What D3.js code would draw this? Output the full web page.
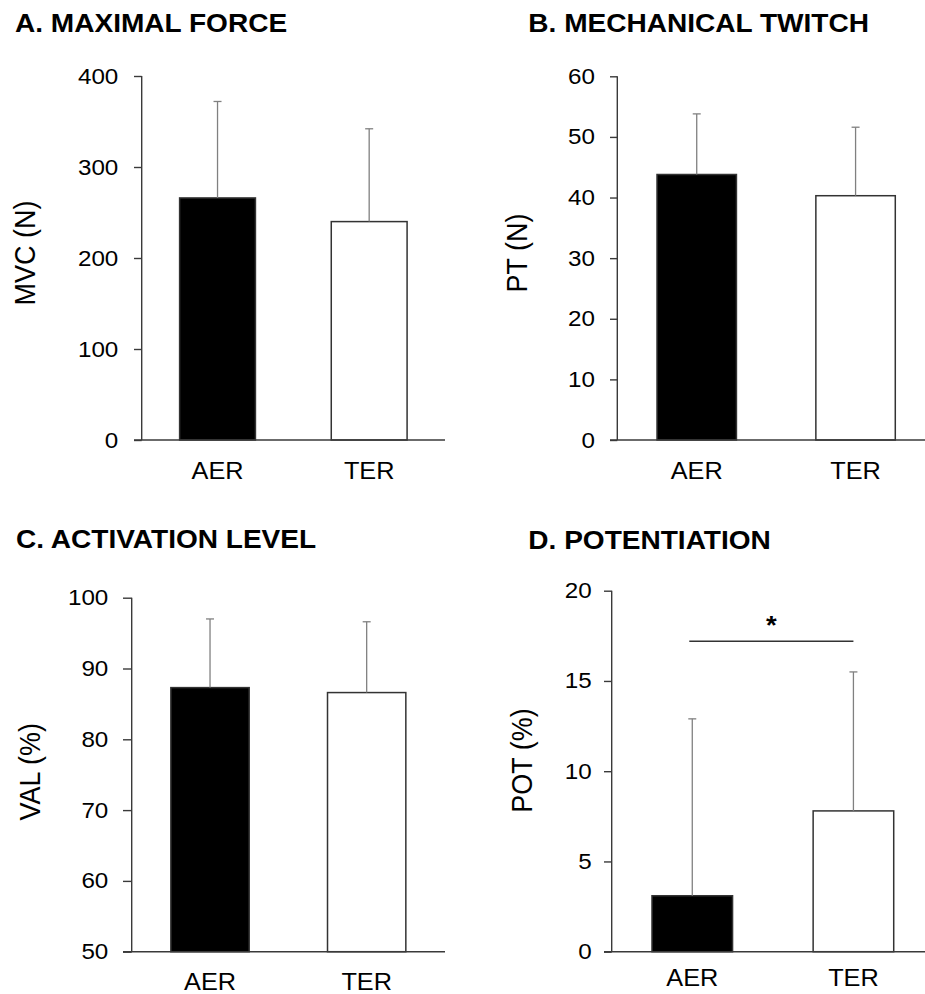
<!DOCTYPE html>
<html>
<head>
<meta charset="utf-8">
<script src="https://cdn.jsdelivr.net/npm/d3@7"></script>
<style>
  html, body { margin: 0; padding: 0; background: #fff; }
  svg { display: block; }
  text { font-family: "Liberation Sans", Arial, sans-serif; fill: #000; }
</style>
</head>
<body>
<svg id="chart" width="925" height="994"></svg>
<script>
// ---- data ----
const groups = ["AER", "TER"];
const barFills = ["#000000", "#ffffff"];

const titles = ["A. MAXIMAL FORCE", "B. MECHANICAL TWITCH", "C. ACTIVATION LEVEL", "D. POTENTIATION"];
const yLabels = ["MVC (N)", "PT (N)", "VAL (%)", "POT (%)"];

const mvcMean = [266, 240];
const mvcSD = [106, 102];
const mvcTicks = [0, 100, 200, 300, 400];

const ptMean = [43.8, 40.3];
const ptSD = [10.0, 11.3];
const ptTicks = [0, 10, 20, 30, 40, 50, 60];

const valMean = [87.3, 86.6];
const valSD = [9.7, 10.0];
const valTicks = [50, 60, 70, 80, 90, 100];

const potMean = [3.1, 7.8];
const potSD = [9.8, 7.7];
const potTicks = [0, 5, 10, 15, 20];

const sigPairs = [null, null, null, {from: "AER", to: "TER", y: 17.2, label: "*"}];

// ---- layout (pixel geometry only) ----
const SX = 1.1; // horizontal stretch of the original figure's text
const layout = [
  {axisX: 141.7, right: 445, yTop: 76, yBot: 440, tickStart: 134, gap: 23.4, titleX: 15, titleY: 31.7,
   ylabX: 35, ylabY: 253, catY: 479},
  {axisX: 617.3, right: 935, yTop: 76.3, yBot: 440, tickStart: 610, gap: 22.3, titleX: 528.3, titleY: 32,
   ylabX: 526.7, ylabY: 253, catY: 479},
  {axisX: 131.7, right: 445, yTop: 597.7, yBot: 951.7, tickStart: 123, gap: 23.4, titleX: 16, titleY: 548.3,
   ylabX: 40, ylabY: 771.7, catY: 990},
  {axisX: 611.7, right: 934, yTop: 590.7, yBot: 951.7, tickStart: 604, gap: 20, titleX: 528.3, titleY: 549,
   ylabX: 531.7, ylabY: 760.5, catY: 986}
];

const panels = [
  {means: mvcMean, sds: mvcSD, ticks: mvcTicks},
  {means: ptMean, sds: ptSD, ticks: ptTicks},
  {means: valMean, sds: valSD, ticks: valTicks},
  {means: potMean, sds: potSD, ticks: potTicks}
];

const svg = d3.select("#chart");
const axisColor = "#3a3a3a";
const errColor = "#808080";
const FONT = "'Liberation Sans', Arial, sans-serif";

panels.forEach((p, i) => {
  const L = layout[i];
  const g = svg.append("g");

  const y = d3.scaleLinear()
    .domain([d3.min(p.ticks), d3.max(p.ticks)])
    .range([L.yBot, L.yTop]);
  const x = d3.scaleBand()
    .domain(groups)
    .range([L.axisX, L.right])
    .paddingInner(0.5)
    .paddingOuter(0.25);

  // title
  g.append("text")
    .attr("transform", `translate(${L.titleX},${L.titleY}) scale(${SX},1)`)
    .attr("font-size", 25.5)
    .attr("font-weight", "bold")
    .text(titles[i]);

  // y axis label
  g.append("text")
    .attr("transform", `translate(${L.ylabX},${L.ylabY}) scale(${SX},1) rotate(-90)`)
    .attr("text-anchor", "middle")
    .attr("font-size", 27)
    .text(yLabels[i]);

  // bars
  g.selectAll("rect.bar")
    .data(groups)
    .join("rect")
    .attr("class", "bar")
    .attr("x", d => x(d))
    .attr("width", x.bandwidth())
    .attr("y", (d, j) => y(p.means[j]))
    .attr("height", (d, j) => y(d3.min(p.ticks)) - y(p.means[j]))
    .attr("fill", (d, j) => barFills[j])
    .attr("stroke", "#333")
    .attr("stroke-width", 1.5);

  // error bars (upper only)
  const eb = g.selectAll("g.err").data(groups).join("g").attr("class", "err");
  eb.append("line")
    .attr("x1", d => x(d) + x.bandwidth() / 2)
    .attr("x2", d => x(d) + x.bandwidth() / 2)
    .attr("y1", (d, j) => y(p.means[j]))
    .attr("y2", (d, j) => y(p.means[j] + p.sds[j]))
    .attr("stroke", errColor).attr("stroke-width", 1.3);
  eb.append("line")
    .attr("x1", d => x(d) + x.bandwidth() / 2 - 4)
    .attr("x2", d => x(d) + x.bandwidth() / 2 + 4)
    .attr("y1", (d, j) => y(p.means[j] + p.sds[j]))
    .attr("y2", (d, j) => y(p.means[j] + p.sds[j]))
    .attr("stroke", errColor).attr("stroke-width", 1.3);

  // y axis
  const tickSize = L.axisX - L.tickStart;
  const ga = g.append("g")
    .attr("transform", `translate(${L.axisX},0)`)
    .call(d3.axisLeft(y).tickValues(p.ticks).tickFormat(d3.format("d")).tickSize(tickSize));
  ga.select(".domain")
    .attr("d", `M0,${L.yTop}V${L.yBot}`)
    .attr("stroke", axisColor).attr("stroke-width", 1.4);
  ga.selectAll(".tick line").attr("stroke", axisColor).attr("stroke-width", 1.4);
  ga.selectAll(".tick text")
    .attr("font-family", FONT)
    .attr("font-size", 22)
    .attr("fill", "#000")
    .attr("x", -L.gap / SX)
    .attr("transform", `scale(${SX},1)`);

  // x axis baseline + category labels
  const gx = g.append("g")
    .attr("transform", `translate(0,${L.yBot})`)
    .call(d3.axisBottom(x).tickSize(0).tickPadding(0));
  gx.select(".domain")
    .attr("d", `M${L.tickStart},0H${L.right}`)
    .attr("stroke", axisColor).attr("stroke-width", 1.4);
  gx.selectAll(".tick text")
    .attr("font-family", FONT)
    .attr("font-size", 23)
    .attr("fill", "#000")
    .attr("dy", null)
    .attr("x", 0)
    .attr("y", L.catY - L.yBot)
    .attr("transform", `scale(${SX},1)`);

  // significance bar
  const s = sigPairs[i];
  if (s) {
    const x1 = x(s.from) + x.bandwidth() / 2 - 3;
    const x2 = x(s.to) + x.bandwidth() / 2;
    g.append("line")
      .attr("x1", x1).attr("x2", x2)
      .attr("y1", y(s.y)).attr("y2", y(s.y))
      .attr("stroke", "#333").attr("stroke-width", 1.5);
    g.append("text")
      .attr("transform", `translate(${(x1 + x2) / 2},${y(s.y) - 7.5}) scale(${SX},1)`)
      .attr("text-anchor", "middle")
      .attr("font-size", 25)
      .attr("font-weight", "bold")
      .text(s.label);
  }
});
</script>
</body>
</html>
